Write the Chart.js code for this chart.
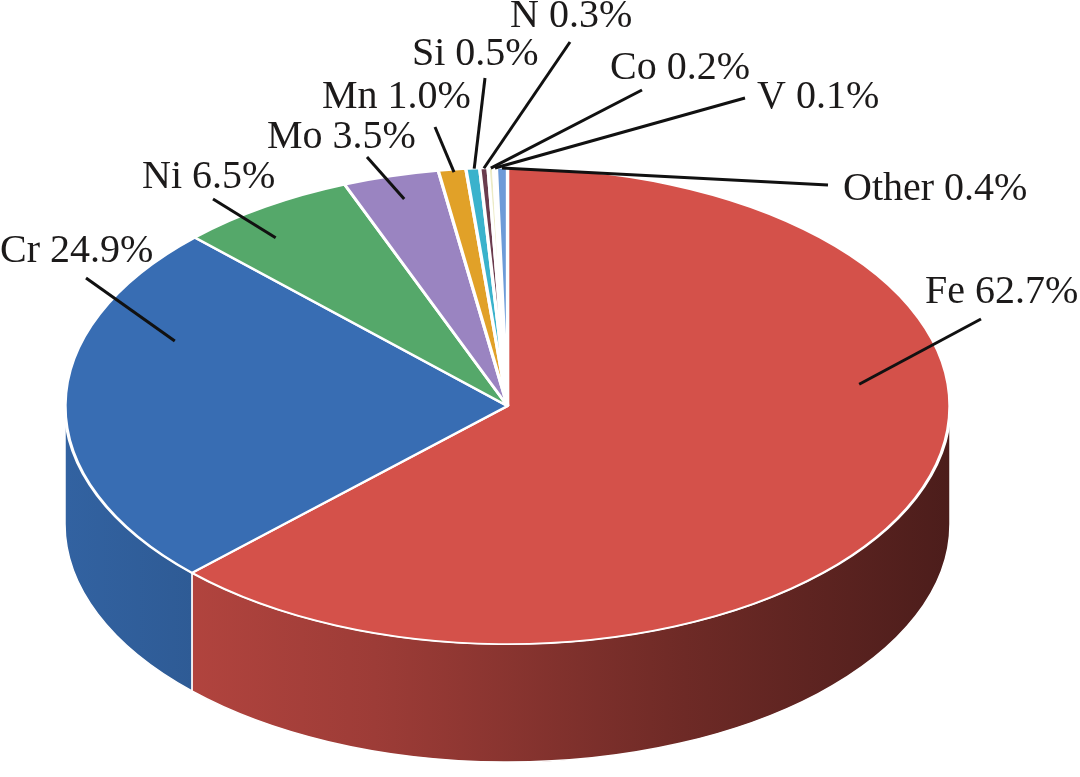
<!DOCTYPE html>
<html>
<head>
<meta charset="utf-8">
<script src="https://cdn.jsdelivr.net/npm/chart.js@4.4.1/dist/chart.umd.min.js"></script>
<style>
  html, body { margin: 0; padding: 0; background: #fff; }
  #wrap { width: 1080px; height: 777px; position: relative; }
</style>
</head>
<body>
<div id="wrap"><canvas id="pieChart"></canvas></div>
<script>
// data
const elements = ['Fe', 'Cr', 'Ni', 'Mo', 'Mn', 'Si', 'N', 'Co', 'V', 'Other'];
const shares = [62.7, 24.9, 6.5, 3.5, 1.0, 0.5, 0.3, 0.2, 0.1, 0.4];
const colours = ['#d4514a', '#386db3', '#55a86a', '#9a84c1', '#e1a128', '#3ab2cc',
                 '#6b3c4e', '#ecebc6', '#d6cfae', '#6d9bd8'];

// label layout: leader end point, text left / baseline
const leaderEnd = [[981, 319], [86, 278], [213, 199], [367, 157], [435, 127],
                   [485, 78], [570, 42], [642, 90], [745, 98], [828, 185]];
const textAt = [[925, 303], [0, 262], [142, 188], [267, 148], [322, 108],
                [412, 65], [510, 27], [610, 79], [757, 108], [843, 200]];
// where on the slice the leader starts: [fraction of the angle, fraction of radius]
const leaderAt = [[0.37, 0.8], [0.72, 0.8], [0.36, 0.88], [0.52, 0.9], [0.55, 0.99],
                  [0.6, 1], [0.5, 1], [0.5, 1], [0.5, 1], [0.5, 1]];

const DEPTH = 118; // thickness of the disc

function shade(hex, f) {
    const n = parseInt(hex.slice(1), 16);
    const r = Math.round(((n >> 16) & 255) * f);
    const g = Math.round(((n >> 8) & 255) * f);
    const b = Math.round((n & 255) * f);
    return `rgb(${r},${g},${b})`;
}

// stretch the round pie into an ellipse that fills the chart area
function projection(chart, arc) {
    const area = chart.chartArea;
    return {
        cx: arc.x,
        cy: arc.y,
        R: arc.outerRadius,
        sx: (area.width / 2) / arc.outerRadius
    };
}

const pie3d = {
    id: 'pie3d',
    beforeDatasetsDraw(chart) {
        const ctx = chart.ctx;
        const arcs = chart.getDatasetMeta(0).data;
        if (!arcs.length) return false;
        const p = projection(chart, arcs[0]);
        const rx = p.R * p.sx, ry = p.R;

        // front side walls
        arcs.forEach((arc, i) => {
            const s = arc.startAngle, e = arc.endAngle;
            [[0, Math.PI], [2 * Math.PI, 3 * Math.PI]].forEach(([lo, hi]) => {
                const a1 = Math.max(s, lo), a2 = Math.min(e, hi);
                if (a2 <= a1) return;
                const grad = ctx.createLinearGradient(p.cx - rx, 0, p.cx + rx, 0);
                grad.addColorStop(0, shade(colours[i], 0.9));
                grad.addColorStop(0.35, shade(colours[i], 0.74));
                grad.addColorStop(0.7, shade(colours[i], 0.52));
                grad.addColorStop(1, shade(colours[i], 0.36));
                ctx.save();
                ctx.beginPath();
                ctx.ellipse(p.cx, p.cy, rx, ry, 0, a1, a2);
                ctx.ellipse(p.cx, p.cy + DEPTH, rx, ry, 0, a2, a1, true);
                ctx.closePath();
                ctx.fillStyle = grad;
                ctx.fill();
                ctx.strokeStyle = '#ffffff';
                ctx.lineWidth = 1.5;
                ctx.stroke();
                ctx.restore();
            });
        });

        // top face, drawn by the arc elements themselves
        ctx.save();
        ctx.translate(p.cx, p.cy);
        ctx.scale(p.sx, 1);
        ctx.translate(-p.cx, -p.cy);
        arcs.forEach(arc => arc.draw(ctx));
        ctx.restore();
        return false;
    },
    afterDraw(chart) {
        const ctx = chart.ctx;
        const arcs = chart.getDatasetMeta(0).data;
        if (!arcs.length) return;
        const p = projection(chart, arcs[0]);
        ctx.save();
        ctx.strokeStyle = '#111111';
        ctx.lineWidth = 3;
        ctx.fillStyle = '#1c1a1a';
        ctx.font = '40px "Liberation Serif", "DejaVu Serif", serif';
        ctx.textBaseline = 'alphabetic';
        ctx.textAlign = 'left';
        arcs.forEach((arc, i) => {
            const [t, rf] = leaderAt[i];
            const a = arc.startAngle + t * (arc.endAngle - arc.startAngle);
            const x0 = p.cx + Math.cos(a) * p.R * rf * p.sx;
            const y0 = p.cy + Math.sin(a) * p.R * rf;
            ctx.beginPath();
            ctx.moveTo(x0, y0);
            ctx.lineTo(leaderEnd[i][0], leaderEnd[i][1]);
            ctx.stroke();
            ctx.fillText(elements[i] + ' ' + shares[i].toFixed(1) + '%', textAt[i][0], textAt[i][1]);
        });
        ctx.restore();
    }
};

const ctx = document.getElementById('pieChart').getContext('2d');
const pieChart = new Chart(ctx, {
    type: 'pie',
    data: {
        labels: elements,
        datasets: [{
            data: shares,
            backgroundColor: colours,
            borderColor: '#ffffff',
            borderWidth: 1.8,
            clip: false
        }]
    },
    options: {
        responsive: true,
        maintainAspectRatio: false,
        animation: false,
        layout: {
            padding: { left: 65, right: 130, top: 167, bottom: 132 }
        },
        plugins: {
            legend: { display: false },
            tooltip: { enabled: false }
        }
    },
    plugins: [pie3d]
});
</script>
</body>
</html>
